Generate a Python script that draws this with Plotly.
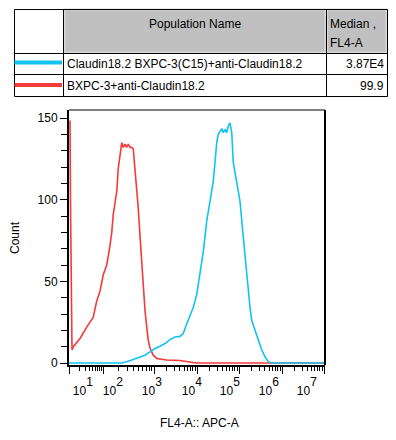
import math
import plotly.graph_objects as go

# ---------------- data (x in display channels 0..1024, y = count) ----------------
RED_X = [1, 4, 6, 8, 10, 12, 17, 30, 44, 71, 97, 111, 124, 137, 151, 164, 171, 177, 184,
         191, 197, 204, 211, 217, 224, 230, 237, 244, 251, 257, 264, 271, 277, 284, 291,
         297, 304, 311, 317, 324, 337, 351, 391, 444, 471, 497, 510, 1024]
RED_Y = [148, 148, 98, 49, 28, 8, 10, 12.4, 15, 22, 28, 38, 44, 54, 60, 72, 80, 91, 97,
         105, 119, 127, 135, 132, 134, 132, 134, 132, 132, 131, 119, 109, 95, 78, 62,
         46, 32, 22, 14, 9, 4.8, 2.8, 1.8, 1.5, 0.8, 0.2, 0, 0]

CYAN_X = [0, 211, 231, 257, 284, 304, 324, 344, 364, 384, 404, 424, 444, 457, 471, 484,
          497, 511, 524, 537, 551, 564, 577, 584, 591, 597, 604, 611, 617, 624, 630, 637,
          644, 651, 657, 664, 671, 677, 684, 695, 704, 711, 717, 724, 731, 744, 757, 771,
          784, 797, 811, 1024]
CYAN_Y = [0, 0, 0.8, 2.2, 3.4, 4.8, 6.8, 8.9, 10.3, 11.9, 14.3, 15.9, 16.3, 18, 24, 29,
          34, 42, 54, 68, 87, 99, 111, 123, 135, 140, 142, 143.5, 141, 143, 141, 145,
          147, 141, 123, 117, 111, 105, 99, 80.5, 66, 52, 42, 34, 26, 20, 14, 8,
          3.8, 0.8, 0, 0]

DECADE_TICKS = [0, 136, 340, 512, 680, 852, 1020]      # tick marks for 10^1 .. 10^7
LABEL_POS = [56, 176, 332, 492, 644, 800, 952]         # label centres for 10^1 .. 10^7
EXPONENTS = ["1", "2", "3", "4", "5", "6", "7"]

POP_NAMES = ["Claudin18.2 BXPC-3(C15)+anti-Claudin18.2", "BXPC-3+anti-Claudin18.2"]
MEDIANS = ["3.87E4", "99.9"]
POP_COLORS = ["#12C3F2", "#F43A3A"]

X_TITLE = "FL4-A:: APC-A"
Y_TITLE = "Count"

# ---------------- layout geometry (absolute page px; page has an 8px body margin) ----------
OFF = 8
W, H = 396 - OFF, 440 - OFF
PLOT_L, PLOT_T, PW, PH = 69, 110, 256, 255
L, T = PLOT_L - OFF, PLOT_T - OFF
R, B = W - L - PW, H - T - PH
FONT = "Liberation Sans, Arial, sans-serif"


def xp(px):
    return (px - PLOT_L) / PW


def yp(py):
    return (PLOT_T + PH - py) / PH


CH_PER_PX = 1024 / PW
base_pos = [p - 3.5 * CH_PER_PX for p in LABEL_POS]
exp_pos = [p + 6.5 * CH_PER_PX for p in LABEL_POS]

minor_x = []
for k in range(len(DECADE_TICKS) - 1):
    a, b = DECADE_TICKS[k], DECADE_TICKS[k + 1]
    for m in range(2, 10):
        minor_x.append(a + math.log10(m) * (b - a))

fig = go.Figure()
fig.add_trace(go.Scatter(x=RED_X, y=RED_Y, mode="lines",
                         line=dict(color=POP_COLORS[1], width=1.6), hoverinfo="skip"))
fig.add_trace(go.Scatter(x=CYAN_X, y=CYAN_Y, mode="lines",
                         line=dict(color=POP_COLORS[0], width=1.6), hoverinfo="skip"))
# empty traces so overlay axes are rendered
fig.add_trace(go.Scatter(x=[None], y=[None], xaxis="x2", yaxis="y", showlegend=False))
fig.add_trace(go.Scatter(x=[None], y=[None], xaxis="x3", yaxis="y", showlegend=False))

tickfont = dict(family=FONT, size=12, color="black")
fig.update_layout(
    width=W, height=H,
    margin=dict(l=L, r=R, t=T, b=B, pad=0),
    paper_bgcolor="white", plot_bgcolor="white",
    showlegend=False,
    font=dict(family=FONT, size=12, color="black"),
    xaxis=dict(range=[0, 1024], showgrid=False, zeroline=False,
               showline=True, linecolor="black", linewidth=2,
               tickmode="array", tickvals=DECADE_TICKS, showticklabels=False,
               ticks="outside", ticklen=7, tickwidth=1, tickcolor="black",
               minor=dict(tickmode="array", tickvals=minor_x, ticks="outside",
                          ticklen=4, tickwidth=1, tickcolor="black")),
    xaxis2=dict(range=[0, 1024], overlaying="x", anchor="y", side="bottom",
                showgrid=False, zeroline=False, showline=False,
                tickmode="array", tickvals=base_pos, ticktext=["10"] * len(base_pos),
                ticks="", ticklabelstandoff=17, tickfont=tickfont),
    xaxis3=dict(range=[0, 1024], overlaying="x", anchor="y", side="bottom",
                showgrid=False, zeroline=False, showline=False,
                tickmode="array", tickvals=exp_pos, ticktext=EXPONENTS,
                ticks="", ticklabelstandoff=8, tickfont=tickfont),
    yaxis=dict(range=[-1.22, 154.9], showgrid=False, zeroline=False,
               showline=True, linecolor="black", linewidth=2,
               tickmode="linear", tick0=0, dtick=50,
               ticks="outside", ticklen=7, tickwidth=1, tickcolor="black",
               tickfont=tickfont,
               minor=dict(dtick=10, ticks="outside", ticklen=6, tickwidth=1,
                          tickcolor="black")),
)

shapes = []
# plot frame top / right
shapes.append(dict(type="line", xref="paper", yref="paper", x0=0, x1=1, y0=1, y1=1,
                   line=dict(color="black", width=1)))
shapes.append(dict(type="line", xref="paper", yref="paper", x0=1, x1=1, y0=0, y1=1,
                   line=dict(color="black", width=2)))
# table
shapes.append(dict(type="rect", xref="paper", yref="paper", x0=xp(64.5), x1=xp(325.5),
                   y0=yp(52.5), y1=yp(9.5), fillcolor="#C0C0C0",
                   line=dict(color="#D8D8D8", width=2)))
shapes.append(dict(type="rect", xref="paper", yref="paper", x0=xp(327), x1=xp(386.5),
                   y0=yp(52.5), y1=yp(9.5), fillcolor="#C0C0C0",
                   line=dict(color="#D8D8D8", width=2)))
shapes.append(dict(type="rect", xref="paper", yref="paper", x0=xp(14.5), x1=xp(387.5),
                   y0=yp(96.5), y1=yp(9.5), line=dict(color="black", width=1)))
for px in (63.5, 326.5):
    shapes.append(dict(type="line", xref="paper", yref="paper", x0=xp(px), x1=xp(px),
                       y0=yp(9.5), y1=yp(96.5), line=dict(color="black", width=1)))
for py in (53.5, 74.5):
    shapes.append(dict(type="line", xref="paper", yref="paper", x0=xp(14.5), x1=xp(387.5),
                       y0=yp(py), y1=yp(py), line=dict(color="black", width=1)))
for py, col in zip((62.5, 85), POP_COLORS):
    shapes.append(dict(type="line", xref="paper", yref="paper", x0=xp(14.5), x1=xp(62),
                       y0=yp(py), y1=yp(py), line=dict(color=col, width=4)))

annots = []


def txt(text, px, py, xanchor="left", size=12, **kw):
    annots.append(dict(text=text, x=xp(px), y=yp(py), xref="paper", yref="paper",
                       xanchor=xanchor, yanchor="middle", showarrow=False,
                       font=dict(family=FONT, size=size, color="black"), **kw))


txt("Population Name", 194.5, 24, "center")
txt("Median ,", 328, 24, "left")
txt("FL4-A", 328, 43, "left")
for row, (name, med) in enumerate(zip(POP_NAMES, MEDIANS)):
    py = 64 if row == 0 else 86
    txt(name, 65, py, "left")
    txt(med, 386, py, "right")
txt(X_TITLE, 199, 423, "center")
txt(Y_TITLE, 15, 238, "center", textangle=-90)

fig.update_layout(shapes=shapes, annotations=annots)
fig.write_html("out.html")
